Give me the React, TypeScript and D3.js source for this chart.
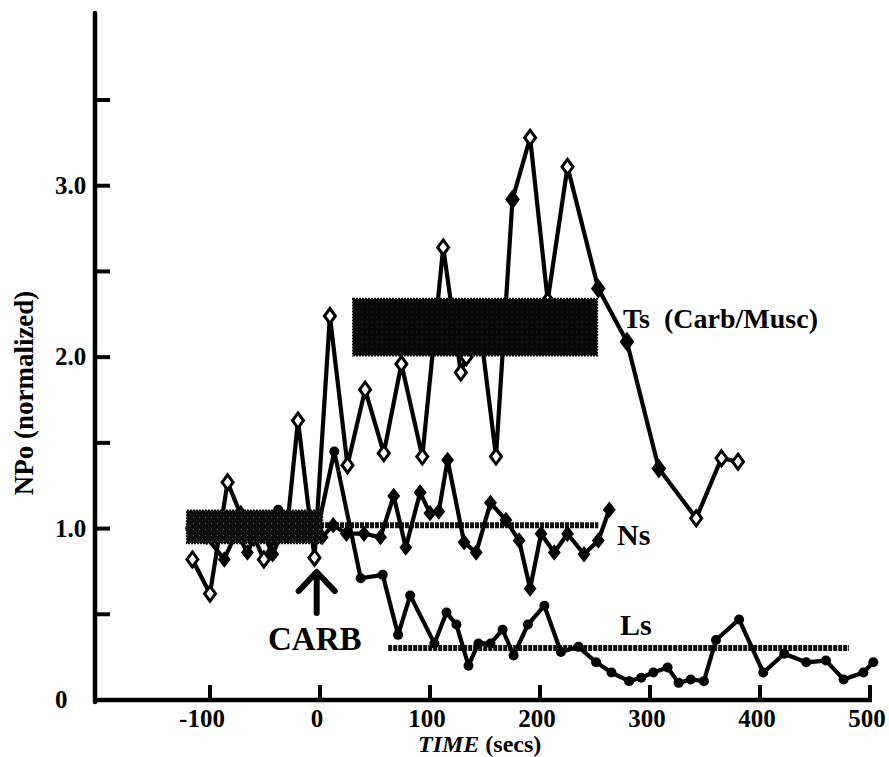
import React from "react";
import * as d3 from "d3";

// ---- axis ticks ----
const xTickValues = [-100, 0, 100, 200, 300, 400, 500];
const xTickLabels = ["-100", "0", "100", "200", "300", "400", "500"];
const yTickValues = [0.5, 1.0, 1.5, 2.0, 2.5, 3.0, 3.5];
const yLabelValues = [0, 1, 2, 3];
const yLabelTexts = ["0", "1.0", "2.0", "3.0"];

// ---- Ts (Carb/Musc) series: open diamonds ----
const tsTime = [-116, -100, -84, -72, -60, -51, -40, -30, -20, -5, 9, 25, 41, 58, 74, 93, 112, 128, 133, 145, 160, 175, 191, 207, 225, 253, 279, 308, 342, 365, 380];
const tsValue = [0.82, 0.62, 1.27, 1.08, 0.95, 0.82, 0.95, 1.0, 1.63, 0.83, 2.24, 1.37, 1.81, 1.44, 1.96, 1.42, 2.64, 1.91, 2.0, 2.2, 1.42, 2.92, 3.28, 2.33, 3.11, 2.4, 2.09, 1.35, 1.06, 1.41, 1.39];
const tsFilledTimes = [175, 253, 279, 308];

// ---- Ns series: filled diamonds ----
const nsTime = [-116, -103, -87, -76, -66, -55, -43, -33, -20, -8, 2, 12, 24, 40, 55, 67, 78, 91, 100, 108, 116, 131, 142, 155, 169, 181, 191, 201, 213, 225, 240, 253, 263];
const nsValue = [1.0, 0.95, 0.82, 0.98, 0.86, 1.02, 0.85, 1.0, 0.97, 1.05, 0.95, 1.02, 0.97, 0.97, 0.95, 1.19, 0.89, 1.21, 1.09, 1.1, 1.4, 0.92, 0.86, 1.15, 1.05, 0.93, 0.65, 0.97, 0.86, 0.97, 0.85, 0.93, 1.11];

// ---- Ls series: filled circles ----
const lsTime = [-118, -100, -80, -60, -38, -25, -12, -3, 13, 37, 57, 71, 82, 104, 115, 124, 135, 144, 155, 166, 176, 189, 204, 219, 235, 251, 265, 281, 292, 303, 316, 326, 337, 349, 360, 381, 403, 422, 442, 460, 476, 494, 503];
const lsValue = [1.0, 1.02, 0.97, 1.0, 1.11, 1.0, 1.05, 0.97, 1.45, 0.71, 0.73, 0.38, 0.61, 0.33, 0.51, 0.44, 0.2, 0.33, 0.33, 0.41, 0.26, 0.44, 0.55, 0.28, 0.31, 0.22, 0.16, 0.11, 0.13, 0.16, 0.19, 0.1, 0.12, 0.11, 0.35, 0.47, 0.16, 0.27, 0.22, 0.23, 0.12, 0.16, 0.22];

// ---- mean bands / lines ----
const baselineBand = { t0: -121, t1: 2, v0: 0.915, v1: 1.105 };
const tsBand = { t0: 30, t1: 252, v0: 2.01, v1: 2.34 };
const nsMean = { t0: 0, t1: 253, v: 1.02 };
const lsMean = { t0: 62, t1: 481, v: 0.303 };

const W = 889;
const H = 757;
const FONT = "'Liberation Serif', 'Times New Roman', serif";

export default function App() {
  const x = d3.scaleLinear().domain([-100, 500]).range([210, 870]);
  const y = d3.scaleLinear().domain([0, 3.5]).range([700, 100]);
  const axisLeft = 95;
  const axisTop = 13;
  const axisRight = 872;
  const axisBottom = y(0);

  const line = d3
    .line<[number, number]>()
    .x((d) => x(d[0]))
    .y((d) => y(d[1]));

  const ts: [number, number][] = tsTime.map((t, i) => [t, tsValue[i]]);
  const ns: [number, number][] = nsTime.map((t, i) => [t, nsValue[i]]);
  const ls: [number, number][] = lsTime.map((t, i) => [t, lsValue[i]]);

  const diamond = (cx: number, cy: number, w: number, h: number) =>
    `M${cx},${cy - h / 2}L${cx + w / 2},${cy}L${cx},${cy + h / 2}L${cx - w / 2},${cy}Z`;

  const band = (b: { t0: number; t1: number; v0: number; v1: number }) => ({
    x: x(b.t0),
    y: y(b.v1),
    width: x(b.t1) - x(b.t0),
    height: y(b.v0) - y(b.v1),
  });

  const bb = band(baselineBand);
  const tb = band(tsBand);
  const lw = 4.2;

  return (
    <svg
      width={W}
      height={H}
      style={{ position: "absolute", left: 0, top: 0, background: "#fff" }}
      fontFamily={FONT}
    >
      <defs>
        <pattern id="stipple" width="6" height="6" patternUnits="userSpaceOnUse">
          <rect width="6" height="6" fill="#0e0e0e" />
          <circle cx="1.5" cy="1.5" r="0.7" fill="#5a5a5a" />
          <circle cx="4.5" cy="4.5" r="0.5" fill="#3a3a3a" />
        </pattern>
        <pattern id="stipple2" width="5" height="5" patternUnits="userSpaceOnUse">
          <rect width="5" height="5" fill="#080808" />
          <circle cx="2" cy="2" r="0.5" fill="#3a3a3a" />
        </pattern>
      </defs>
      <rect width={W} height={H} fill="#fff" />

      {/* mean lines */}
      <line x1={x(nsMean.t0)} x2={x(nsMean.t1)} y1={y(nsMean.v)} y2={y(nsMean.v)} stroke="#111" strokeWidth={6} strokeDasharray="4 1" />
      <line x1={x(lsMean.t0)} x2={x(lsMean.t1)} y1={y(lsMean.v)} y2={y(lsMean.v)} stroke="#111" strokeWidth={6} strokeDasharray="4 1" />

      {/* series lines */}
      <path d={line(ls) || ""} fill="none" stroke="#000" strokeWidth={lw} strokeLinejoin="round" />
      <path d={line(ns) || ""} fill="none" stroke="#000" strokeWidth={lw} strokeLinejoin="round" />
      <path d={line(ts) || ""} fill="none" stroke="#000" strokeWidth={lw} strokeLinejoin="round" />

      {/* markers */}
      {ls.map((d, i) => (
        <circle key={"l" + i} cx={x(d[0])} cy={y(d[1])} r={5} fill="#000" />
      ))}
      {ns.map((d, i) => (
        <path key={"n" + i} d={diamond(x(d[0]), y(d[1]), 11, 14)} fill="#000" stroke="#000" strokeWidth={1.5} />
      ))}
      {ts.map((d, i) => (
        <path
          key={"t" + i}
          d={diamond(x(d[0]), y(d[1]), 11, 15)}
          fill={tsFilledTimes.includes(d[0]) ? "#000" : "#fff"}
          stroke="#000"
          strokeWidth={3}
        />
      ))}

      {/* bands drawn over the traces */}
      <rect {...bb} fill="url(#stipple)" stroke="#111" strokeWidth={2} strokeDasharray="2 1" />
      <rect {...tb} fill="url(#stipple2)" stroke="#111" strokeWidth={2} strokeDasharray="2 1" />

      {/* axes */}
      <line x1={axisLeft} x2={axisLeft} y1={axisTop} y2={axisBottom + 2} stroke="#000" strokeWidth={4.5} strokeLinecap="round" />
      <line x1={axisLeft - 2} x2={axisRight} y1={axisBottom} y2={axisBottom} stroke="#000" strokeWidth={4.5} />
      {yTickValues.map((v) => (
        <line key={"yt" + v} x1={axisLeft} x2={axisLeft + 15} y1={y(v)} y2={y(v)} stroke="#000" strokeWidth={4} />
      ))}
      {xTickValues.map((v) => (
        <line key={"xt" + v} x1={x(v)} x2={x(v)} y1={axisBottom} y2={axisBottom - 15} stroke="#000" strokeWidth={4} />
      ))}
      {yLabelValues.map((v, i) => (
        <text key={"yl" + v} x={55} y={y(v) + 8} fontSize={25} fontWeight="bold" fill="#000">
          {yLabelTexts[i]}
        </text>
      ))}
      {xTickValues.map((v, i) => (
        <text
          key={"xl" + v}
          x={x(v) + (v < 0 ? -8 : -3)}
          y={727}
          fontSize={25}
          fontWeight="bold"
          textAnchor="middle"
          fill="#000"
        >
          {xTickLabels[i]}
        </text>
      ))}

      {/* axis titles */}
      <text x={418} y={752} fontSize={24} fontWeight="bold" fill="#000">
        <tspan fontStyle="italic">TIME</tspan> (secs)
      </text>
      <text
        transform="translate(33,393) rotate(-90)"
        fontSize={27}
        fontWeight="bold"
        textAnchor="middle"
        fill="#000"
      >
        NPo (normalized)
      </text>

      {/* annotations */}
      <text x={623} y={328} fontSize={28} fontWeight="bold" fill="#000" xmlSpace="preserve">
        Ts  (Carb/Musc)
      </text>
      <text x={617} y={545} fontSize={30} fontWeight="bold" fill="#000">Ns</text>
      <text x={620} y={635} fontSize={30} fontWeight="bold" fill="#000">Ls</text>
      <text x={268} y={650} fontSize={33} fontWeight="bold" fill="#000">CARB</text>
      <line x1={x(-3)} x2={x(-3)} y1={613} y2={574} stroke="#000" strokeWidth={6} strokeLinecap="round" />
      <polyline
        points={`${x(-3) - 18},${591} ${x(-3)},${572} ${x(-3) + 18},${591}`}
        fill="none"
        stroke="#000"
        strokeWidth={6}
        strokeLinecap="round"
        strokeLinejoin="round"
      />
    </svg>
  );
}
